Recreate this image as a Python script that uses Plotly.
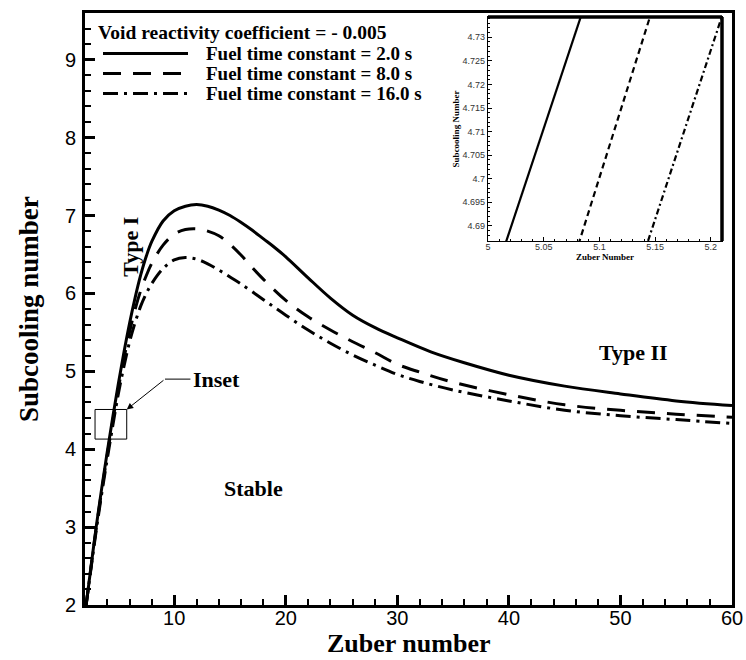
import plotly.graph_objects as go

# ---------------- data ----------------
solid_x = [2.1, 2.5, 3, 3.5, 4, 4.5, 5, 5.5, 6, 6.5, 7, 7.5, 8, 9, 10, 11, 12, 13, 14, 15, 16, 17, 18, 19, 20,
           22, 24, 26, 28, 30, 33, 36, 40, 45, 50, 55, 60]
solid_y = [2.0, 2.45, 3.0, 3.5, 3.97, 4.42, 4.85, 5.25, 5.62, 5.95, 6.24, 6.48, 6.67, 6.93, 7.06, 7.12, 7.14,
           7.12, 7.07, 7.0, 6.91, 6.81, 6.7, 6.59, 6.47, 6.2, 5.94, 5.72, 5.56, 5.43, 5.25, 5.11, 4.95, 4.81,
           4.71, 4.62, 4.56]

dash_x = [2.1, 2.5, 3, 3.5, 4, 4.5, 5, 5.5, 6, 6.5, 7, 7.5, 8, 9, 10, 11, 12, 13, 14, 15, 16, 17, 18, 20,
          22, 24, 26, 28, 30, 32, 35, 40, 45, 50, 55, 60]
dash_y = [2.0, 2.44, 2.98, 3.47, 3.93, 4.37, 4.79, 5.17, 5.51, 5.8, 6.04, 6.23, 6.39, 6.62, 6.76, 6.82, 6.83,
          6.8, 6.74, 6.63, 6.49, 6.33, 6.18, 5.91, 5.7, 5.53, 5.38, 5.24, 5.09, 4.99, 4.86, 4.7, 4.57, 4.5,
          4.45, 4.41]

dashdot_x = [2.1, 2.5, 3, 3.5, 4, 4.5, 5, 5.5, 6, 6.5, 7, 7.5, 8, 9, 10, 11, 12, 13, 14, 15, 16, 18, 20,
             22, 24, 26, 28, 30, 32, 35, 40, 45, 50, 55, 60]
dashdot_y = [2.0, 2.43, 2.95, 3.43, 3.88, 4.31, 4.72, 5.07, 5.38, 5.63, 5.84, 6.0, 6.13, 6.32, 6.43, 6.46,
             6.44, 6.38, 6.3, 6.21, 6.12, 5.92, 5.72, 5.53, 5.36, 5.21, 5.08, 4.96, 4.87, 4.76, 4.62, 4.5,
             4.43, 4.38, 4.33]

# inset (zoom of the rising branch)
inset_y = [4.684, 4.737]
inset_solid_x = [5.0125, 5.087]
inset_dash_x = [5.0784, 5.1489]
inset_dashdot_x = [5.1397, 5.2135]

series_names = ["Fuel time constant = 2.0 s", "Fuel time constant = 8.0 s", "Fuel time constant = 16.0 s"]
legend_title = "Void reactivity coefficient = - 0.005"

x_ticks = [10, 20, 30, 40, 50, 60]
y_ticks = [2, 3, 4, 5, 6, 7, 8, 9]
inset_x_ticks = [5, 5.05, 5.1, 5.15, 5.2]
inset_x_text = ["5", "5.05", "5.1", "5.15", "5.2"]
inset_y_ticks = [4.69, 4.695, 4.7, 4.705, 4.71, 4.715, 4.72, 4.725, 4.73]
inset_y_text = ["4.69", "4.695", "4.7", "4.705", "4.71", "4.715", "4.72", "4.725", "4.73"]

# ---------------- styling ----------------
SERIF = "Liberation Serif, Times New Roman, serif"
SANS = "Liberation Sans, Arial, sans-serif"
DASH = "18px,12px"
DASHDOT = "15px,6px,3px,6px"
styles = [("solid", 3), (DASH, 3), (DASHDOT, 3)]

fig = go.Figure()
for (xs, ys), (dash, w), name in zip([(solid_x, solid_y), (dash_x, dash_y), (dashdot_x, dashdot_y)],
                                      styles, series_names):
    fig.add_trace(go.Scatter(x=xs, y=ys, mode="lines", name=name, line_shape="spline",
                             line=dict(color="black", width=w, dash=dash),
                             xaxis="x", yaxis="y", showlegend=False))

inset_styles = [("solid", 2.2), ("6px,4px", 2.2), ("6px,3px,2px,3px", 2.2)]
for xs, (dash, w) in zip([inset_solid_x, inset_dash_x, inset_dashdot_x], inset_styles):
    fig.add_trace(go.Scatter(x=xs, y=inset_y, mode="lines", line=dict(color="black", width=w, dash=dash),
                             xaxis="x2", yaxis="y2", showlegend=False))

L, R, T, B = 85, 14, 13, 55
W, H = 746, 660
pw, ph = W - L - R, H - T - B


def px(x):
    return (x - L) / pw


def py(y):
    return (H - B - y) / ph


shapes = []
annotations = []

# legend (drawn manually to match the long line samples)
annotations.append(dict(xref="paper", yref="paper", x=px(96), y=py(32), xanchor="left", yanchor="middle",
                        text="<b>" + legend_title + "</b>", showarrow=False,
                        font=dict(family=SERIF, size=19.5, color="black")))
rows = [53.5, 73.5, 93.5]
for (dash, w), name, ry in zip(styles, series_names, rows):
    shapes.append(dict(type="line", xref="paper", yref="paper", x0=px(103), x1=px(188), y0=py(ry), y1=py(ry),
                       line=dict(color="black", width=3, dash=dash)))
    annotations.append(dict(xref="paper", yref="paper", x=px(204), y=py(ry), xanchor="left", yanchor="middle",
                            text="<b>" + name + "</b>", showarrow=False,
                            font=dict(family=SERIF, size=19, color="black")))

# axis titles
annotations += [
    dict(xref="paper", yref="paper", x=0.5, y=py(643), xanchor="center", yanchor="middle",
         text="<b>Zuber number</b>", showarrow=False, font=dict(family=SERIF, size=26, color="black")),
    dict(xref="paper", yref="paper", x=px(29), y=0.5, xanchor="center", yanchor="middle", textangle=-90,
         text="<b>Subcooling number</b>", showarrow=False, font=dict(family=SERIF, size=27, color="black")),
]

# region labels
lab = dict(family=SERIF, size=22, color="black")
annotations += [
    dict(x=6.05, y=6.6, xref="x", yref="y", text="<b>Type I</b>", textangle=-90, showarrow=False, font=lab),
    dict(x=51.2, y=5.24, xref="x", yref="y", text="<b>Type II</b>", showarrow=False, font=lab),
    dict(x=17.1, y=3.49, xref="x", yref="y", text="<b>Stable</b>", showarrow=False, font=lab),
    dict(x=11.5, y=4.9, xref="x", yref="y", text="<b>Inset</b>", xanchor="left", showarrow=False, font=lab),
    dict(x=5.74, y=4.51, xref="x", yref="y", ax=9.17, ay=4.9, axref="x", ayref="y", text="",
         showarrow=True, arrowhead=2, arrowsize=1.3, arrowwidth=1, arrowcolor="black"),
]
shapes += [
    dict(type="line", xref="x", yref="y", x0=9.17, x1=11.45, y0=4.9, y1=4.9,
         line=dict(color="black", width=1)),
    dict(type="rect", xref="x", yref="y", x0=2.9, x1=5.74, y0=4.13, y1=4.51,
         line=dict(color="black", width=1)),
    # thick top/right frame of the inset
    dict(type="line", xref="x2 domain", yref="y2 domain", x0=0, x1=1, y0=1, y1=1,
         line=dict(color="black", width=3.5)),
    dict(type="line", xref="x2 domain", yref="y2 domain", x0=1, x1=1, y0=0, y1=1,
         line=dict(color="black", width=3.5)),
]

fig.update_layout(
    width=W, height=H,
    margin=dict(l=L, r=R, t=T, b=B, autoexpand=False),
    paper_bgcolor="white", plot_bgcolor="white",
    showlegend=False,
    shapes=shapes, annotations=annotations,
    xaxis=dict(range=[2, 60], domain=[0, 1], anchor="y", tickvals=x_ticks,
               showline=True, linewidth=3, linecolor="black", mirror=True,
               ticks="inside", ticklen=10, tickwidth=3, tickcolor="black",
               minor=dict(ticks="inside", ticklen=6, tickwidth=1.5, tickcolor="black", dtick=2, tick0=0),
               showgrid=False, zeroline=False, ticklabelstandoff=-7,
               tickfont=dict(family=SANS, size=20, color="black")),
    yaxis=dict(range=[2, 9.6], domain=[0, 1], anchor="x", tickvals=y_ticks,
               showline=True, linewidth=3, linecolor="black", mirror=True,
               ticks="inside", ticklen=10, tickwidth=3, tickcolor="black",
               minor=dict(ticks="inside", ticklen=6, tickwidth=1.5, tickcolor="black", dtick=0.2, tick0=0),
               showgrid=False, zeroline=False, ticklabelstandoff=2,
               tickfont=dict(family=SANS, size=20, color="black")),
    xaxis2=dict(range=[5, 5.21], domain=[px(488), px(722)], anchor="y2",
                tickvals=inset_x_ticks, ticktext=inset_x_text,
                showline=True, linewidth=1.2, linecolor="black", mirror=True,
                ticks="inside", ticklen=4, tickwidth=1, tickcolor="black",
                minor=dict(ticks="inside", ticklen=2, tickwidth=0.8, tickcolor="black", dtick=0.01, tick0=5),
                showgrid=False, zeroline=False, ticklabelstandoff=-3,
                tickfont=dict(family=SANS, size=9, color="#333"),
                title=dict(text="<b>Zuber Number</b>", font=dict(family=SERIF, size=9, color="black"),
                           standoff=0)),
    yaxis2=dict(range=[4.6868, 4.7343], domain=[py(241), py(17)], anchor="x2",
                tickvals=inset_y_ticks, ticktext=inset_y_text,
                showline=True, linewidth=1.2, linecolor="black", mirror=True,
                ticks="inside", ticklen=4, tickwidth=1, tickcolor="black",
                minor=dict(ticks="inside", ticklen=2, tickwidth=0.8, tickcolor="black", dtick=0.001, tick0=4.69),
                showgrid=False, zeroline=False,
                tickfont=dict(family=SANS, size=9, color="#333"),
                title=dict(text="<b>Subcooling Number</b>", font=dict(family=SERIF, size=9, color="black"),
                           standoff=1)),
)

fig.write_html("out.html")
